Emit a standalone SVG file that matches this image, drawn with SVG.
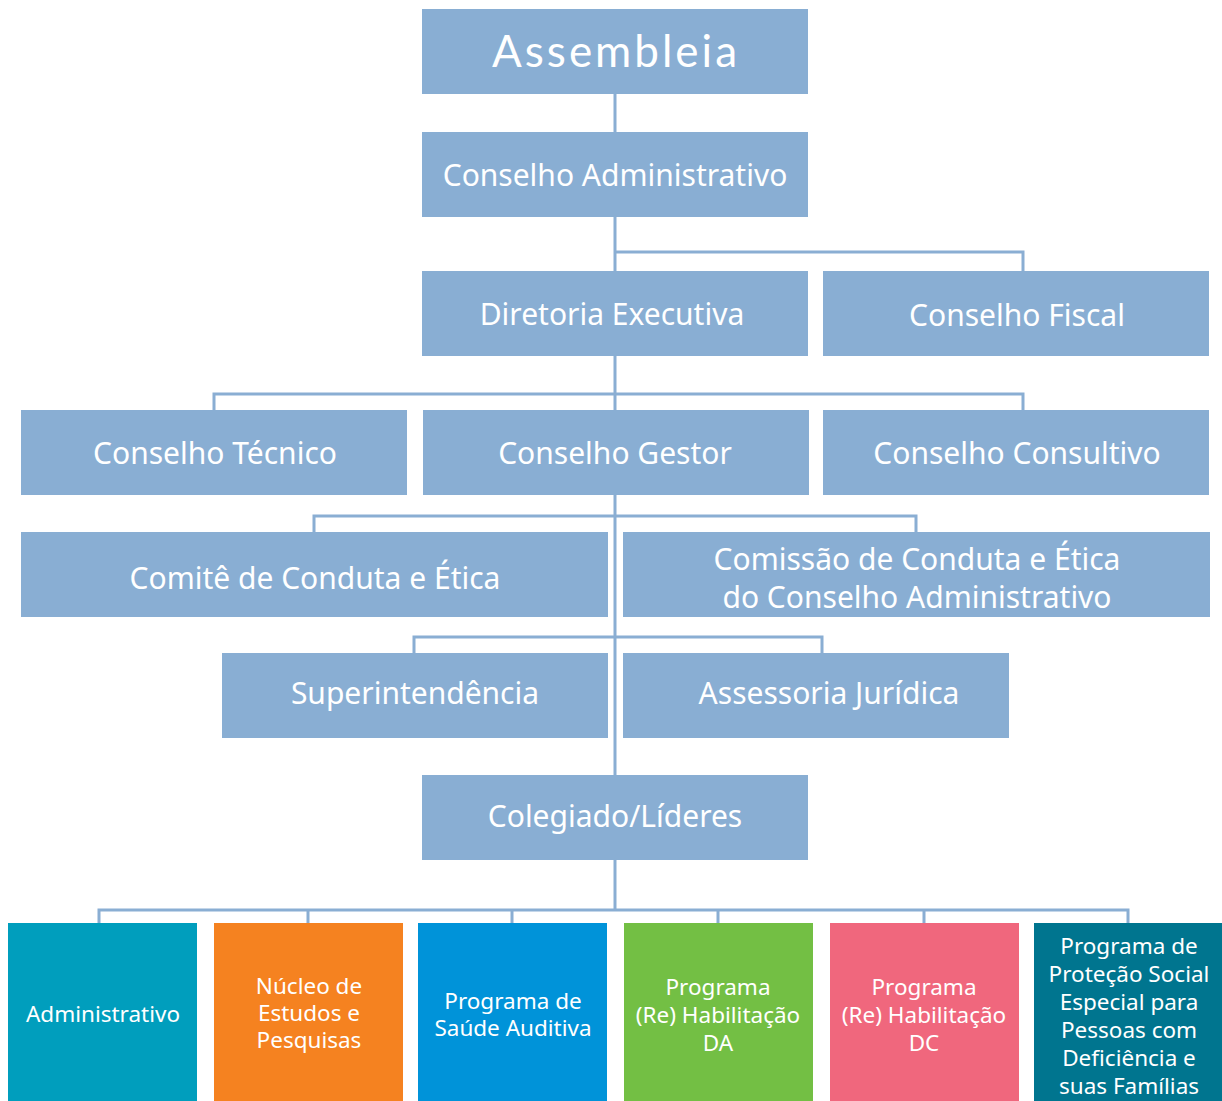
<svg xmlns="http://www.w3.org/2000/svg" width="1222" height="1101" viewBox="0 0 1222 1101">
<style>
.b{fill:#89AED3}
.t{font-family:"Noto Sans","Open Sans","DejaVu Sans",sans-serif;fill:#fff;text-anchor:middle;dominant-baseline:central}
.m{font-size:30px}
.s{font-size:22.5px}
.c{fill:none;stroke:#8AAED3;stroke-width:3}
</style>
<rect width="1222" height="1101" fill="#fff"/>
<g id="connectors" class="c">
<path d="M615 94V775"/>
<path d="M615 252H1023V271"/>
<path d="M214 410V394H1023V410"/>
<path d="M314 532V516H916V532"/>
<path d="M414 653V637H822V653"/>
<path d="M615 860V910"/>
<path d="M99 923V910H1128V923M308 910V923M512 910V923M718 910V923M924 910V923"/>
</g>
<g id="assembleia"><rect class="b" x="422" y="9" width="386" height="85"/><text class="t" x="616" y="50" style="font-size:44px;letter-spacing:3px;font-family:'Lato','Noto Sans',sans-serif">Assembleia</text></g>
<g id="conselho-administrativo"><rect class="b" x="422" y="132" width="386" height="85"/><text class="t m" x="615" y="174">Conselho Administrativo</text></g>
<g id="diretoria-executiva"><rect class="b" x="422" y="271" width="386" height="85"/><text class="t m" x="612" y="313">Diretoria Executiva</text></g>
<g id="conselho-fiscal"><rect class="b" x="823" y="271" width="386" height="85"/><text class="t m" x="1017" y="314">Conselho Fiscal</text></g>
<g id="conselho-tecnico"><rect class="b" x="21" y="410" width="386" height="85"/><text class="t m" x="215" y="452">Conselho Técnico</text></g>
<g id="conselho-gestor"><rect class="b" x="423" y="410" width="386" height="85"/><text class="t m" x="615" y="452">Conselho Gestor</text></g>
<g id="conselho-consultivo"><rect class="b" x="823" y="410" width="386" height="85"/><text class="t m" x="1017" y="452">Conselho Consultivo</text></g>
<g id="comite"><rect class="b" x="21" y="532" width="587" height="85"/><text class="t m" x="315" y="577">Comitê de Conduta e Ética</text></g>
<g id="comissao"><rect class="b" x="623" y="532" width="587" height="85"/><text class="t m" x="917" y="558">Comissão de Conduta e Ética</text><text class="t m" x="917" y="596">do Conselho Administrativo</text></g>
<g id="superintendencia"><rect class="b" x="222" y="653" width="386" height="85"/><text class="t m" x="415" y="692">Superintendência</text></g>
<g id="assessoria"><rect class="b" x="623" y="653" width="386" height="85"/><text class="t m" x="829" y="692">Assessoria Jurídica</text></g>
<g id="colegiado"><rect class="b" x="422" y="775" width="386" height="85"/><text class="t m" x="615" y="815">Colegiado/Líderes</text></g>
<g id="administrativo"><rect x="8" y="923" width="189" height="178" fill="#009EBD"/><text class="t s" x="103" y="1013">Administrativo</text></g>
<g id="nucleo"><rect x="214" y="923" width="189" height="178" fill="#F58220"/><text class="t s" x="309" y="985">Núcleo de</text><text class="t s" x="309" y="1012">Estudos e</text><text class="t s" x="309" y="1039">Pesquisas</text></g>
<g id="saude-auditiva"><rect x="418" y="923" width="189" height="178" fill="#0093D9"/><text class="t s" x="513" y="1000">Programa de</text><text class="t s" x="513" y="1027">Saúde Auditiva</text></g>
<g id="habilitacao-da"><rect x="624" y="923" width="189" height="178" fill="#73BF44"/><text class="t s" x="718" y="986">Programa</text><text class="t s" x="718" y="1014">(Re) Habilitação</text><text class="t s" x="718" y="1042">DA</text></g>
<g id="habilitacao-dc"><rect x="830" y="923" width="189" height="178" fill="#F0677D"/><text class="t s" x="924" y="986">Programa</text><text class="t s" x="924" y="1014">(Re) Habilitação</text><text class="t s" x="924" y="1042">DC</text></g>
<g id="protecao-social"><rect x="1034" y="923" width="188" height="178" fill="#00758F"/><text class="t s" x="1129" y="945">Programa de</text><text class="t s" x="1129" y="973">Proteção Social</text><text class="t s" x="1129" y="1001">Especial para</text><text class="t s" x="1129" y="1029">Pessoas com</text><text class="t s" x="1129" y="1057">Deficiência e</text><text class="t s" x="1129" y="1085">suas Famílias</text></g>
</svg>
